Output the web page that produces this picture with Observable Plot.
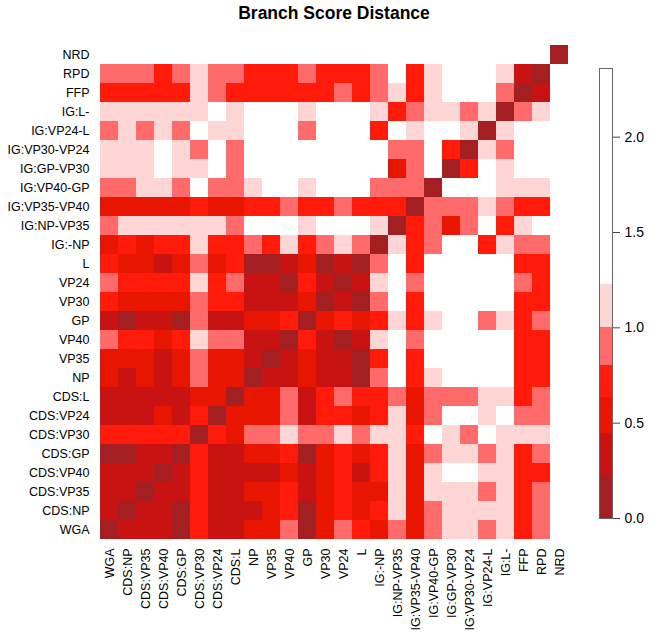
<!DOCTYPE html>
<html><head><meta charset="utf-8">
<script src="https://cdn.jsdelivr.net/npm/d3@7"></script>
<script src="https://cdn.jsdelivr.net/npm/@observablehq/plot@0.6"></script>
<style>
body{margin:0;background:#fff;font-family:"Liberation Sans",Arial,sans-serif}
#wrap{position:relative;width:661px;height:638px;overflow:hidden}
#title{position:absolute;top:0;left:0;width:668px;text-align:center;font-weight:bold;font-size:17.5px;line-height:26px;color:#000}
#main,#legend{position:absolute;top:0}
#main{left:0}
#legend{left:580px}
</style></head><body>
<div id="wrap"><div id="main"></div><div id="legend"></div><div id="title">Branch Score Distance</div></div>
<script>
// column labels (left to right)
const xLabels = ["WGA","CDS:NP","CDS:VP35","CDS:VP40","CDS:GP","CDS:VP30","CDS:VP24","CDS:L","NP","VP35","VP40","GP","VP30","VP24","L","IG:-NP","IG:NP-VP35","IG:VP35-VP40","IG:VP40-GP","IG:GP-VP30","IG:VP30-VP24","IG:VP24-L","IG:L-","FFP","RPD","NRD"];
// row labels (top to bottom)
const yLabels = xLabels.slice().reverse();

// branch score distances, rows top (NRD) to bottom (WGA), columns as xLabels
const dist = [
[2.3,2.3,2.3,2.3,2.3,2.3,2.3,2.3,2.3,2.3,2.3,2.3,2.3,2.3,2.3,2.3,2.3,2.3,2.3,2.3,2.3,2.3,2.3,2.3,2.3,0.1],
[0.9,0.9,0.9,0.72,0.9,1.1,0.9,0.9,0.72,0.72,0.72,0.9,0.72,0.72,0.72,0.9,1.5,0.72,1.1,1.5,1.5,1.5,1.1,0.33,0.1,2.3],
[0.72,0.72,0.72,0.72,0.72,1.1,0.9,0.72,0.72,0.72,0.72,0.72,0.72,0.9,0.72,0.9,1.1,0.72,1.1,1.5,1.5,1.5,0.9,0.1,0.33,2.3],
[1.1,1.1,1.1,1.1,1.1,1.1,1.5,1.1,1.5,1.5,1.5,1.1,1.5,1.5,1.5,1.1,0.72,0.9,1.1,1.1,0.9,1.1,0.1,0.9,1.1,2.3],
[0.9,1.1,0.9,1.1,0.9,1.5,1.1,1.1,1.5,1.5,1.5,0.9,1.5,1.5,1.5,0.72,1.5,1.1,1.5,1.5,1.1,0.1,1.1,1.5,1.5,2.3],
[1.1,1.1,1.1,1.5,1.1,0.9,1.5,0.9,1.5,1.5,1.5,1.5,1.5,1.5,1.5,1.5,0.9,0.9,1.5,0.72,0.1,1.1,0.9,1.5,1.5,2.3],
[1.1,1.1,1.1,1.5,1.1,1.1,1.5,0.9,1.5,1.5,1.5,1.5,1.5,1.5,1.5,1.5,0.54,0.9,1.5,0.1,0.72,1.5,1.1,1.5,1.5,2.3],
[0.9,0.9,1.1,1.1,0.9,1.5,0.9,0.9,1.1,1.5,1.5,1.1,1.5,1.5,1.5,0.9,0.9,0.9,0.1,1.5,1.5,1.5,1.1,1.1,1.1,2.3],
[0.54,0.54,0.54,0.54,0.54,0.72,0.54,0.54,0.72,0.72,0.9,0.72,0.72,0.9,0.72,0.72,0.72,0.1,0.9,0.9,0.9,1.1,0.9,0.72,0.72,2.3],
[0.9,1.1,1.1,1.1,1.1,1.1,1.1,0.9,1.5,1.5,1.5,1.1,1.5,1.5,1.5,1.1,0.1,0.72,0.9,0.54,0.9,1.5,0.72,1.1,1.5,2.3],
[0.54,0.72,0.54,0.72,0.72,1.1,0.72,0.72,0.9,0.72,1.1,0.72,0.9,1.1,0.9,0.1,1.1,0.72,0.9,1.5,1.5,0.72,1.1,0.9,0.9,2.3],
[0.72,0.54,0.54,0.33,0.54,0.9,0.54,0.72,0.1,0.1,0.33,0.54,0.1,0.33,0.1,0.9,1.5,0.72,1.5,1.5,1.5,1.5,1.5,0.72,0.72,2.3],
[0.9,0.72,0.72,0.72,0.72,1.1,0.72,0.9,0.33,0.33,0.1,0.72,0.33,0.1,0.33,1.1,1.5,0.9,1.5,1.5,1.5,1.5,1.5,0.9,0.72,2.3],
[0.72,0.54,0.54,0.54,0.54,0.9,0.72,0.72,0.33,0.33,0.33,0.54,0.1,0.33,0.1,0.9,1.5,0.72,1.5,1.5,1.5,1.5,1.5,0.72,0.72,2.3],
[0.33,0.1,0.33,0.33,0.1,0.9,0.33,0.33,0.54,0.54,0.72,0.1,0.54,0.72,0.54,0.72,1.1,0.72,1.1,1.5,1.5,0.9,1.1,0.72,0.9,2.3],
[0.9,0.72,0.72,0.54,0.72,1.1,0.9,0.9,0.33,0.33,0.1,0.72,0.33,0.1,0.33,1.1,1.5,0.9,1.5,1.5,1.5,1.5,1.5,0.72,0.72,2.3],
[0.54,0.54,0.54,0.33,0.54,0.9,0.54,0.54,0.33,0.1,0.33,0.54,0.33,0.33,0.1,0.72,1.5,0.72,1.5,1.5,1.5,1.5,1.5,0.72,0.72,2.3],
[0.54,0.33,0.54,0.33,0.54,0.9,0.54,0.54,0.1,0.33,0.33,0.54,0.33,0.33,0.1,0.9,1.5,0.72,1.1,1.5,1.5,1.5,1.5,0.72,0.72,2.3],
[0.33,0.33,0.33,0.33,0.33,0.54,0.54,0.1,0.54,0.54,0.9,0.33,0.72,0.9,0.72,0.72,0.9,0.54,0.9,0.9,0.9,1.1,1.1,0.72,0.9,2.3],
[0.33,0.33,0.33,0.54,0.33,0.72,0.1,0.54,0.54,0.54,0.9,0.33,0.72,0.72,0.54,0.72,1.1,0.54,0.9,1.5,1.5,1.1,1.5,0.9,0.9,2.3],
[0.72,0.72,0.72,0.72,0.72,0.1,0.72,0.54,0.9,0.9,1.1,0.9,0.9,1.1,0.9,1.1,1.1,0.72,1.5,1.1,0.9,1.5,1.1,1.1,1.1,2.3],
[0.1,0.1,0.33,0.33,0.1,0.72,0.33,0.33,0.54,0.54,0.72,0.1,0.54,0.72,0.54,0.72,1.1,0.54,0.9,1.1,1.1,0.9,1.1,0.72,0.9,2.3],
[0.33,0.33,0.33,0.1,0.33,0.72,0.33,0.33,0.33,0.33,0.54,0.33,0.54,0.72,0.33,0.72,1.1,0.54,1.1,1.5,1.5,1.1,1.1,0.72,0.72,2.3],
[0.33,0.33,0.1,0.33,0.33,0.72,0.33,0.33,0.54,0.54,0.72,0.33,0.54,0.72,0.54,0.54,1.1,0.54,1.1,1.1,1.1,0.9,1.1,0.72,0.9,2.3],
[0.33,0.1,0.33,0.33,0.1,0.72,0.33,0.33,0.33,0.54,0.72,0.1,0.54,0.72,0.54,0.72,1.1,0.54,0.9,1.1,1.1,1.1,1.1,0.72,0.9,2.3],
[0.1,0.33,0.33,0.33,0.1,0.72,0.33,0.33,0.54,0.54,0.9,0.1,0.54,0.9,0.72,0.54,0.9,0.54,0.9,1.1,1.1,0.9,1.1,0.72,0.9,2.3]
];

// colour key
const breaks = [0.22, 0.445, 0.635, 0.8, 1.0, 1.225];
const binColors = ["#a41f22","#c91212","#e81500","#ff1a0a","#ff6b6b","#ffd6d6","#ffffff"];
const keyMax = 2.36;
const keyTicks = [0, 0.5, 1.0, 1.5, 2.0];

const cells = [];
yLabels.forEach((r, i) => xLabels.forEach((c, j) => cells.push({row: r, col: c, value: dist[i][j]})));

const colorOpt = {type: "threshold", domain: breaks, range: binColors};
const font = '"Liberation Sans", Arial, sans-serif';

const main = Plot.plot({
  width: 661, height: 638,
  marginLeft: 96, marginRight: 89, marginTop: 42, marginBottom: 96,
  x: {domain: xLabels, padding: 0, axis: null, label: null},
  y: {domain: yLabels, padding: 0, axis: null, label: null},
  color: colorOpt,
  style: {fontFamily: font, fontSize: "12.5px", color: "#000", background: "transparent", overflow: "visible"},
  marks: [
    Plot.cell(cells, {x: "col", y: "row", fill: "value", shapeRendering: "crispEdges"}),
    Plot.axisX({anchor: "bottom", label: null, tickSize: 0, tickPadding: 6, tickRotate: -90, fontSize: 12.5, fill: "#000"}),
    Plot.axisY({anchor: "left", label: null, tickSize: 0, tickPadding: 7, fontSize: 12.5, fill: "#000"})
  ]
});
document.getElementById("main").appendChild(main);

const bounds = [0, ...breaks, keyMax];
const keyBins = bounds.slice(0, -1).map((b, i) => ({y1: b, y2: bounds[i + 1], mid: (b + bounds[i + 1]) / 2}));

const legend = Plot.plot({
  width: 80, height: 638,
  marginLeft: 19, marginRight: 48, marginTop: 68, marginBottom: 120,
  x: {domain: [0, 1], axis: null},
  y: {domain: [0, keyMax], axis: null, label: null},
  color: colorOpt,
  style: {fontFamily: font, fontSize: "14px", color: "#000", background: "transparent", overflow: "visible"},
  marks: [
    Plot.rect(keyBins, {x1: 0, x2: 1, y1: "y1", y2: "y2", fill: "mid", shapeRendering: "crispEdges"}),
    Plot.frame({stroke: "#666", strokeWidth: 1}),
    Plot.axisY({anchor: "right", label: null, ticks: keyTicks, tickFormat: d3.format(".1f"), tickSize: 7, tickPadding: 5, fontSize: 14, stroke: "#444", fill: "#000"})
  ]
});
document.getElementById("legend").appendChild(legend);
</script>
</body></html>
